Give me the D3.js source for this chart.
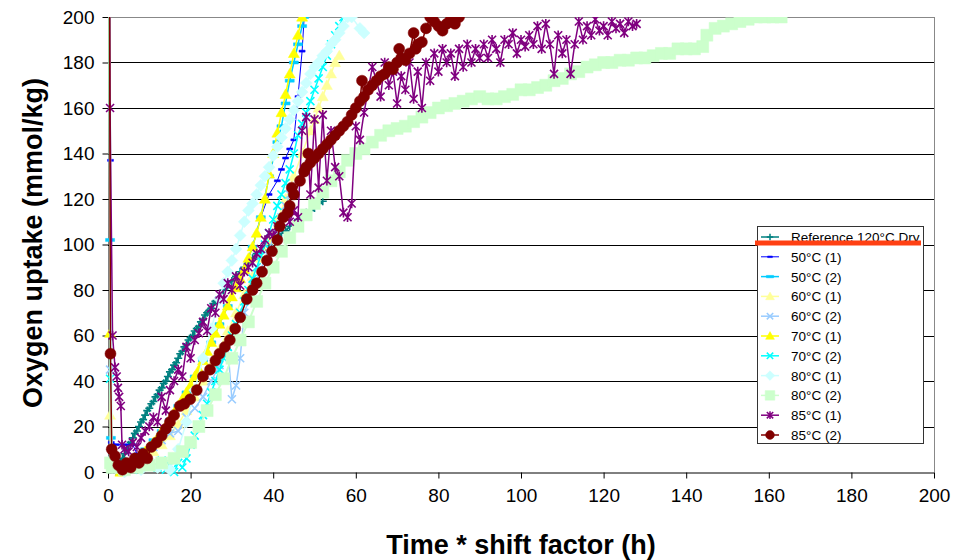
<!DOCTYPE html>
<html>
<head>
<meta charset="utf-8">
<script src="https://cdn.jsdelivr.net/npm/d3@7"></script>
<style>
  body { margin: 0; background: #fff; }
  svg { font-family: "Liberation Sans", Arial, sans-serif; }
</style>
</head>
<body>
<div id="chart"></div>
<script>
// tick values
var xTicks = [0, 20, 40, 60, 80, 100, 120, 140, 160, 180, 200];
var yTicks = [0, 20, 40, 60, 80, 100, 120, 140, 160, 180, 200];

// series names (legend order = drawing order)
var seriesNames = ["Reference 120°C Dry", "50°C (1)", "50°C (2)", "60°C (1)", "60°C (2)",
                   "70°C (1)", "70°C (2)", "80°C (1)", "80°C (2)", "85°C (1)", "85°C (2)"];

// [time * shift factor (h), oxygen uptake (mmol/kg)]
var ref120Dry = [[2,0],[2.5,2],[3,4],[3.5,6],[4,8],[4.5,10],[5,12],[5.5,13],[6,15],[6.5,17],[7,18],
  [7.5,20],[8,22],[8.5,23],[9,25],[9.5,27],[10,28],[10.5,30],[11,31],[11.5,33],[12,34],[12.5,36],
  [13,37],[13.5,39],[14,40],[14.5,42],[15,44],[15.5,45],[16,47],[16.5,48],[17,50],[17.5,52],[18,53],
  [18.5,55],[19,56],[19.5,58],[20,59],[20.5,60],[21,62],[21.5,63],[22,64],[22.5,66],[23,67],[23.5,69],
  [24,70],[24.5,71],[25,72],[25.5,74],[26,75],[27,77],[28,80],[29,82],[30,84],[31,86],[32,88],[33,90],
  [34,92],[35,94],[36,96],[37,97],[38,99],[39,100],[40,102],[41,103],[42,105],[43,106],[44,108],
  [45,109],[46,111],[47,112],[48,114],[49,115],[50,116],[51,118],[52,119]];

var c50a = [[0.4,260],[0.6,137],[0.8,13],[2,12],[4,12],[6,12],[7,8],[9,9],[11,13],[13,18],[15,23],
  [17,29],[19,35],[21,42],[23,49],[25,57],[27,65],[29,73],[31,81],[33,89],[35,99],[37,112],[39,122],
  [41,128],[42,133],[43,138],[44,142],[45,146],[46,165],[47,185],[47.5,200]];

var c50b = [[0.3,260],[0.5,102],[0.7,15],[1.5,5],[3,2],[5,3],[7,6],[9,10],[11,14],[13,18],[15,23],
  [17,29],[19,35],[21,42],[23,49],[25,57],[27,65],[29,73],[31,81],[33,89],[35,99],[37,112],[39,130],
  [41,145],[42,152],[43,162],[44,172],[45,180],[46,188],[47,196],[47.5,200]];

var c60a = [[0.3,260],[0.5,25],[1,3],[3,1],[5,2],[7,4],[9,6],[11,9],[13,12],[15,16],[17,21],[19,27],
  [21,33],[23,40],[25,47],[27,54],[29,62],[31,70],[33,78],[35,86],[37,94],[39,102],[41,111],[43,120],
  [45,130],[47,140],[49,150],[50,155],[51,160],[52,165],[53,170],[54,175],[55,180],[56,183]];

var c60b = [[0.3,260],[0.5,45],[1,5],[3,2],[5,3],[7,5],[9,8],[11,11],[13,14],[15,17],[17,18],[19,24],
  [21,28],[23,33],[25,40],[27,47],[29,55],[30,32],[31,38],[32,50],[33,70],[35,80],[37,89],[39,98],
  [41,107],[42,112],[43,117],[44,122],[45,124]];

var c70a = [[0.3,260],[0.5,61],[1,2],[3,0],[5,2],[6,3],[7,5],[8,7],[9,9],[10,11],[11,13],[12,15],
  [13,18],[14,20],[15,23],[16,26],[17,29],[18,32],[19,35],[20,38],[21,42],[22,45],[23,49],[24,53],
  [25,57],[26,61],[27,65],[28,69],[29,73],[30,77],[31,81],[32,85],[33,89],[34,94],[35,99],[36,105],
  [37,112],[38,120],[39,131],[40,140],[41,149],[42,158],[43,166],[44,175],[45,184],[46,192],[47,200]];

var c70b = [[0.3,260],[0.5,41],[1,3],[3,2],[6,1],[9,3],[12,2],[13,5],[14,1],[15,3],[16,0],[17,4],
  [18,2],[19,6],[20,12],[21,16],[22,20],[23,25],[24,30],[25,35],[26,40],[27,45],[28,50],[29,55],
  [30,60],[31,65],[32,70],[33,75],[34,80],[35,85],[36,90],[37,95],[38,100],[39,105],[40,111],[41,117],
  [42,122],[43,127],[44,133],[45,140],[46,148],[47,153],[48,158],[49,163],[50,168],[51,173],[52,178],
  [53,183],[54,188],[55,192],[56,196],[57,200]];

var c80a = [[0.3,260],[1,2],[4,0],[8,1],[12,2],[15,1],[17,10],[19,22],[21,36],[23,50],[25,63],[27,76],
  [28,83],[29,88],[30,93],[31,98],[32,104],[33,110],[34,115],[35,118],[36,122],[37,126],[38,130],
  [39,134],[40,139],[41,143],[42,147],[43,151],[44,155],[45,159],[46,163],[47,167],[48,171],[49,175],
  [50,178],[51,180],[52,183],[53,185],[54,188],[55,190],[56,193],[57,196],[58,200],[59,200],[61,195],[62,193]];

var c80b = [[0.3,260],[0.6,4],[1,2],[4,1],[7,2],[10,3],[13,4],[16,6],[18,9],[20,13],[22,20],[24,27],
  [26,34],[28,41],[30,50],[32,58],[34,66],[36,75],[38,83],[40,90],[42,97],[44,103],[46,108],[48,113],
  [50,118],[52,123],[54,128],[56,132],[58,137],[60,140],[62,142],[64,145],[66,148],[68,150],[70,151],
  [72,152],[74,154],[76,156],[78,158],[80,160],[82,161],[84,162],[86,163],[88,164],[90,165],[92,164],
  [94,164],[96,165],[98,166],[100,168],[102,168],[104,169],[106,170],[108,172],[110,173],[112,175],
  [114,176],[116,178],[118,179],[120,180],[122,180],[124,181],[126,181],[128,182],[130,182],[132,183],
  [134,184],[136,184],[138,186],[140,186],[142,186],[144,187],[145,192],[147,195],[149,196],[151,197],
  [153,198],[155,199],[157,200],[159,200],[161,200],[163,200]];

var c85a = [[0.3,260],[0.5,160],[1.1,60],[1.7,46],[2.1,42],[2.4,37],[2.7,33],[3.1,29],[3.4,12],[4,10],
  [5,9],[6,13],[7,11],[8,15],[9,18],[10,20],[11,24],[12,22],[13,33],[14,27],[15,36],[16,40],[17,45],
  [18,42],[19,55],[20,50],[21,58],[22,61],[23,66],[24,62],[25,72],[26,70],[27,78],[28,76],[29,83],
  [30,80],[31,86],[32,82],[33,88],[34,90],[35,92],[36,96],[37,98],[38,102],[39,105],[40,104],[41,108],
  [42,110],[43,112],[44,110],[45,115],[46,112],[47,150],[48,156],[49,122],[50,155],[51,125],[52,157],
  [53,128],[54,150],[55,134],[56,130],[57,114],[58,112],[59,118],[60,152],[61,146],[62,158],[63,168],
  [64,178],[65,172],[66,165],[67,180],[68,170],[69,176],[70,162],[71,174],[72,168],[73,180],[74,164],
  [75,176],[76,160],[77,180],[78,172],[79,184],[80,176],[81,186],[82,180],[83,184],[84,174],[85,186],
  [86,178],[87,188],[88,180],[89,186],[90,182],[91,188],[92,182],[93,190],[94,186],[95,180],[96,190],
  [97,188],[98,193],[99,184],[100,190],[101,187],[102,192],[103,188],[104,196],[105,186],[106,197],
  [107,188],[108,175],[109,192],[110,184],[111,190],[112,175],[113,188],[114,198],[115,190],[116,196],
  [117,192],[118,199],[119,194],[120,196],[121,192],[122,198],[123,195],[124,197],[125,193],[126,198],
  [127,196],[128,197]];

var c85b = [[0.3,260],[0.6,52],[0.9,10],[1.7,7],[2.5,3],[3.5,1],[4.5,4],[5.5,2],[6.5,6],[7.5,4],[8.5,8],
  [9.5,6],[10.5,11],[11.8,13],[13,16],[14,19],[15,22],[16,25],[17.4,29],[18.5,30],[19.9,32],[21.5,36],
  [23,42],[24.7,45],[26,49],[27,52],[28.3,55],[29.5,58],[30.8,63],[32,68],[33.6,76],[35,80],[36,83],
  [37.3,88],[38.5,93],[39.7,97],[41,102],[41.6,108],[42.5,112],[43.5,114],[44,117],[44.5,125],[45,122],
  [46.5,128],[47.5,132],[48,134],[48.5,140],[49,136],[50,138],[51,140],[52,142],[53,144],[54,146],
  [55,148],[56,150],[57,152],[58,154],[59,157],[60,160],[61,163],[61.5,172],[62,165],[63,168],[64,170],
  [65,172],[66,174],[67,175],[68,178],[69,177],[70,180],[70.5,186],[71,182],[72,181],[73,184],[74,193],
  [74.5,186],[75,188],[76,189],[77,195],[78,200],[79,198],[80,196],[81,194],[82,197],[83,199],[84,197],[85,200]];

// set the dimensions of the plot area
var W = 972, H = 560;
var plot = {left: 108, right: 934, top: 17, bottom: 472};

var svg = d3.select("#chart").append("svg")
    .attr("width", W)
    .attr("height", H);

var x = d3.scaleLinear().domain([0, 200]).range([plot.left, plot.right]);
var y = d3.scaleLinear().domain([0, 200]).range([plot.bottom, plot.top]);

// gridlines
svg.append("g")
  .selectAll("line")
  .data(yTicks.filter(function(d) { return d > 0; }))
  .enter().append("line")
    .attr("x1", plot.left).attr("x2", plot.right)
    .attr("y1", function(d) { return Math.round(y(d)) + 0.5; })
    .attr("y2", function(d) { return Math.round(y(d)) + 0.5; })
    .attr("stroke", function(d) { return d == 200 ? "#888" : "#000"; })
    .attr("stroke-width", 1);

// right border of the plot area
svg.append("line")
  .attr("x1", plot.right + 0.5).attr("x2", plot.right + 0.5)
  .attr("y1", plot.top).attr("y2", plot.bottom)
  .attr("stroke", "#888");

// axes
var xAxis = svg.append("g")
  .attr("transform", "translate(0," + (plot.bottom + 0.5) + ")")
  .call(d3.axisBottom(x).tickValues(xTicks).tickSize(6).tickPadding(10).tickSizeOuter(0));
var yAxis = svg.append("g")
  .attr("transform", "translate(" + (plot.left + 0.5) + ",0)")
  .call(d3.axisLeft(y).tickValues(yTicks).tickSize(6).tickPadding(8).tickSizeOuter(0));
[xAxis, yAxis].forEach(function(a) {
  a.selectAll("text").style("font-size", "19px").attr("fill", "#000")
    .style("font-family", "'Liberation Sans', Arial, sans-serif");
  a.selectAll("line, path").attr("stroke", "#000");
});

// axis titles
svg.append("text")
  .attr("x", 521).attr("y", 554)
  .attr("text-anchor", "middle")
  .style("font-size", "27px").style("font-weight", "bold")
  .text("Time * shift factor (h)");
svg.append("text")
  .attr("transform", "translate(42,243)rotate(-90)")
  .attr("text-anchor", "middle")
  .style("font-size", "27px").style("font-weight", "bold")
  .text("Oxygen uptake (mmol/kg)");

// marker shapes
var shapes = {
  plus: function(s) { return "M" + (-s) + ",0H" + s + "M0," + (-s) + "V" + s; },
  dash: function(s) { return "M" + (-s) + "," + (-s / 3) + "h" + (2 * s) + "v" + (2 * s / 3) + "h" + (-2 * s) + "Z"; },
  tri: function(s) { return "M0," + (-s) + "L" + s + "," + (s * 0.75) + "L" + (-s) + "," + (s * 0.75) + "Z"; },
  cross: function(s) { return "M" + (-s) + "," + (-s) + "L" + s + "," + s + "M" + (-s) + "," + s + "L" + s + "," + (-s); },
  diamond: function(s) { return "M0," + (-s) + "L" + s + ",0L0," + s + "L" + (-s) + ",0Z"; },
  square: function(s) { return "M" + (-s) + "," + (-s) + "h" + (2 * s) + "v" + (2 * s) + "h" + (-2 * s) + "Z"; },
  star: function(s) { return "M" + (-s) + "," + (-s) + "L" + s + "," + s + "M" + (-s) + "," + s + "L" + s + "," + (-s) + "M0," + (-s * 1.2) + "V" + (s * 1.2); },
  circle: function(s) { return d3.symbol(d3.symbolCircle, Math.PI * s * s)(); }
};

var series = [
  {data: ref120Dry, color: "#008080", shape: "plus",    size: 4,   fill: false, lw: 2},
  {data: c50a,      color: "#0000ff", shape: "dash",    size: 3,   fill: true,  lw: 1},
  {data: c50b,      color: "#00ccff", shape: "dash",    size: 4.5, fill: true,  lw: 1.5},
  {data: c60a,      color: "#ffff99", shape: "tri",     size: 5.5, fill: true,  lw: 1.5},
  {data: c60b,      color: "#99ccff", shape: "cross",   size: 4,   fill: false, lw: 1.5},
  {data: c70a,      color: "#ffff00", shape: "tri",     size: 5.5, fill: true,  lw: 1.5},
  {data: c70b,      color: "#00ffff", shape: "cross",   size: 4,   fill: false, lw: 1.5},
  {data: c80a,      color: "#ccffff", shape: "diamond", size: 6,   fill: true,  lw: 1.5},
  {data: c80b,      color: "#ccffcc", shape: "square",  size: 6,   fill: true,  lw: 2},
  {data: c85a,      color: "#800080", shape: "star",    size: 4,   fill: false, lw: 1.5},
  {data: c85b,      color: "#800000", shape: "circle",  size: 5.5, fill: true,  lw: 1.5}
];

svg.append("clipPath").attr("id", "clip")
  .append("rect")
    .attr("x", plot.left - 10).attr("y", plot.top)
    .attr("width", plot.right - plot.left + 20)
    .attr("height", plot.bottom - plot.top + 10);

var lineGen = d3.line()
  .x(function(d) { return x(d[0]); })
  .y(function(d) { return y(d[1]); });

var marks = svg.append("g").attr("clip-path", "url(#clip)");

series.forEach(function(s) {
  var g = marks.append("g");
  g.append("path")
    .datum(s.data)
    .attr("d", lineGen)
    .attr("fill", "none")
    .attr("stroke", s.color)
    .attr("stroke-width", s.lw);
  g.selectAll("path.mk")
    .data(s.data)
    .enter().append("path")
      .attr("class", "mk")
      .attr("transform", function(d) { return "translate(" + x(d[0]) + "," + y(d[1]) + ")"; })
      .attr("d", shapes[s.shape](s.size))
      .attr("fill", s.fill ? s.color : "none")
      .attr("stroke", s.color)
      .attr("stroke-width", s.fill ? 0.5 : 1.6);
});

// legend
var lg = svg.append("g");
lg.append("rect")
  .attr("x", 757.5).attr("y", 226.5)
  .attr("width", 166).attr("height", 217)
  .attr("fill", "#fff").attr("stroke", "#333");

seriesNames.forEach(function(name, i) {
  var s = series[i];
  var cy = 237 + i * 19.8;
  lg.append("line")
    .attr("x1", 761).attr("x2", 779)
    .attr("y1", cy).attr("y2", cy)
    .attr("stroke", s.color).attr("stroke-width", Math.min(s.lw, 1.5));
  lg.append("path")
    .attr("transform", "translate(770," + cy + ")")
    .attr("d", shapes[s.shape](s.size * 0.8))
    .attr("fill", s.fill ? s.color : "none")
    .attr("stroke", s.color)
    .attr("stroke-width", s.fill ? 0.5 : 1.5);
  lg.append("text")
    .attr("x", 791).attr("y", cy + 5)
    .style("font-size", "13.5px")
    .text(name);
});

// red marker line over the legend
svg.append("line")
  .attr("x1", 755).attr("x2", 921)
  .attr("y1", 243).attr("y2", 243)
  .attr("stroke", "#ff4013").attr("stroke-width", 5);
</script>
</body>
</html>
